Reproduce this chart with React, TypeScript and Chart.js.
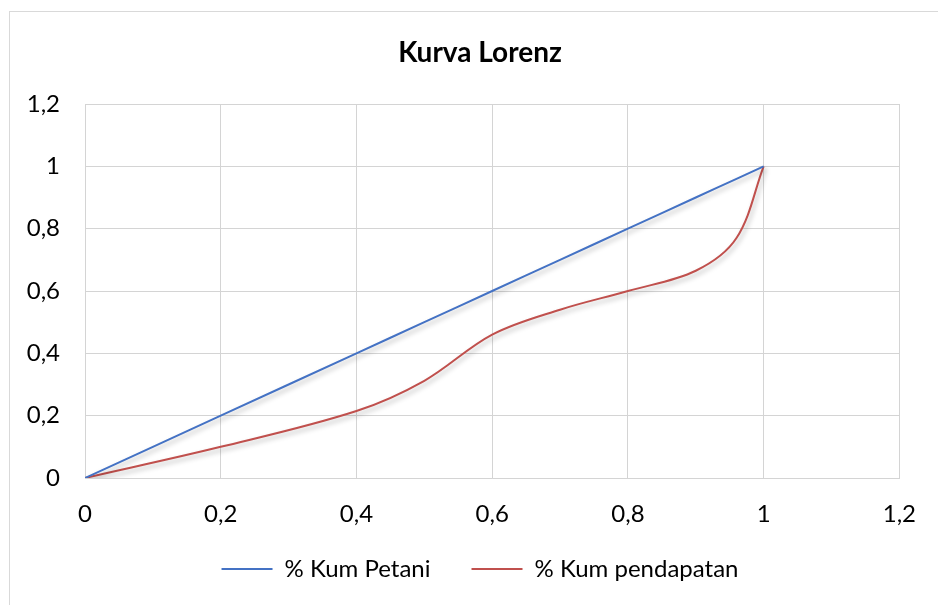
import React, { useEffect, useRef } from "react";
import { Chart, registerables } from "chart.js";

Chart.register(...registerables);

const titleText = "Kurva Lorenz";
const seriesNames = ["% Kum Petani", "% Kum pendapatan"];
const kumPetani = [0, 0.2, 0.4, 0.5, 0.6, 0.7, 0.8, 0.9, 0.96, 1];
const kumPendapatan = [0, 0.1, 0.215, 0.312, 0.46, 0.54, 0.6, 0.665, 0.77, 1];
const axisMin = 0;
const axisMax = 1.2;
const axisStep = 0.2;

const fmt = (v: number) => String(Number(v.toFixed(1))).replace(".", ",");

const shadowPlugin = {
  id: "lineShadow",
  beforeDatasetDraw(chart: any) {
    const ctx = chart.ctx;
    ctx.save();
    ctx.shadowColor = "rgba(0,0,0,0.28)";
    ctx.shadowBlur = 5;
    ctx.shadowOffsetX = 2;
    ctx.shadowOffsetY = 3;
  },
  afterDatasetDraw(chart: any) {
    chart.ctx.restore();
  },
};

export default function App() {
  const ref = useRef<HTMLCanvasElement | null>(null);

  useEffect(() => {
    if (!ref.current) return;
    const grid = { color: "#d4d4d4", lineWidth: 1, drawTicks: false };
    const chart = new Chart(ref.current, {
      type: "scatter",
      data: {
        datasets: [
          {
            label: seriesNames[0],
            data: kumPetani.map((x, i) => ({ x, y: kumPetani[i] })),
            borderColor: "#4472C4",
            backgroundColor: "#4472C4",
            borderWidth: 2,
            showLine: true,
            pointRadius: 0,
            pointHoverRadius: 0,
            pointStyle: "line",
            tension: 0.35,
          },
          {
            label: seriesNames[1],
            data: kumPetani.map((x, i) => ({ x, y: kumPendapatan[i] })),
            borderColor: "#C0504D",
            backgroundColor: "#C0504D",
            borderWidth: 2,
            showLine: true,
            pointRadius: 0,
            pointHoverRadius: 0,
            pointStyle: "line",
            tension: 0.35,
          },
        ],
      },
      options: {
        animation: false,
        responsive: false,
        layout: { padding: { left: 58, right: 36, top: 0, bottom: 14 } },
        font: { family: "Lato" },
        scales: {
          x: {
            type: "linear",
            min: axisMin,
            max: axisMax,
            grid,
            border: { color: "#d4d4d4" },
            ticks: {
              stepSize: axisStep,
              padding: 22,
              color: "#000",
              font: { family: "Lato", size: 24 },
              callback: (v: any) => fmt(Number(v)),
            },
            afterFit: (s: any) => {
              s.height = 38;
              s._computeLabelArea = () => undefined;
            },
          },
          y: {
            type: "linear",
            min: axisMin,
            max: axisMax,
            grid,
            border: { color: "#d4d4d4" },
            ticks: {
              stepSize: axisStep,
              padding: 25,
              color: "#000",
              font: { family: "Lato", size: 24 },
              callback: (v: any) => fmt(Number(v)),
            },
            afterFit: (s: any) => {
              s.width = 27;
              s._computeLabelArea = () => undefined;
            },
          },
        },
        plugins: {
          title: {
            display: true,
            text: titleText,
            color: "#000",
            font: { family: "Lato", size: 28, weight: "bold" },
            padding: { top: 36, bottom: 34.4 },
          },
          legend: {
            position: "bottom",
            labels: {
              usePointStyle: true,
              pointStyleWidth: 51,
              padding: 41,
              color: "#000",
              font: { family: "Lato", size: 24 },
            },
          },
          tooltip: { enabled: false },
        },
      },
      plugins: [shadowPlugin],
    } as any);
    return () => chart.destroy();
  }, []);

  return (
    <div
      style={{
        position: "fixed",
        left: 0,
        top: 0,
        width: 938,
        height: 605,
        overflow: "hidden",
        background: "#fff",
      }}
    >
      <div
        style={{
          position: "absolute",
          left: 9,
          top: 11,
          width: 1000,
          height: 700,
          border: "1px solid #d9d9d9",
        }}
      />
      <canvas
        ref={ref}
        width={938}
        height={605}
        style={{ position: "absolute", left: 0, top: 0 }}
      />
    </div>
  );
}
